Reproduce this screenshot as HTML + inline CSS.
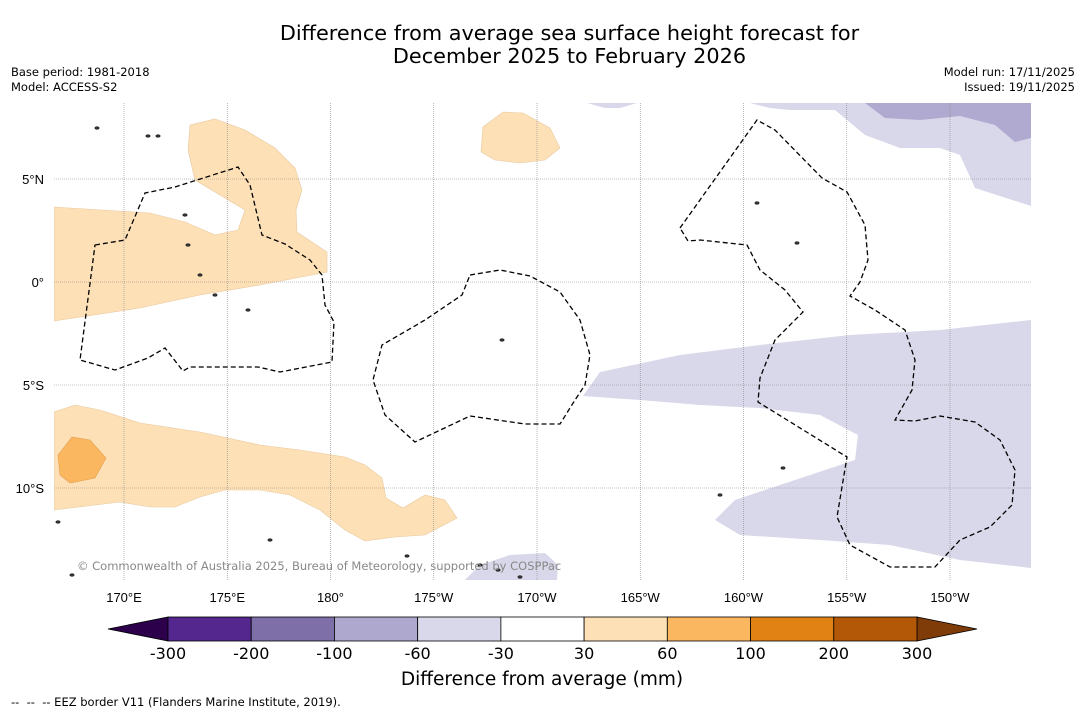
<!DOCTYPE html>
<html><head><meta charset="utf-8"><style>
body{margin:0;background:#fff;font-family:"Liberation Sans","DejaVu Sans",sans-serif;}
#wrap{position:relative;width:1085px;height:713px;overflow:hidden;background:#fff;}
.t{position:absolute;color:#000;white-space:nowrap;}
.dv{font-family:"DejaVu Sans",sans-serif;}
</style></head><body>
<div id="wrap">
<div class="t dv" style="left:0;width:1139px;top:22px;text-align:center;font-size:20.8px;line-height:23px;">Difference from average sea surface height forecast for<br>December 2025 to February 2026</div>
<div class="t dv" style="left:11px;top:65px;font-size:11.5px;line-height:15px;">Base period: 1981-2018<br>Model: ACCESS-S2</div>
<div class="t dv" style="right:10px;top:65px;font-size:11.5px;line-height:15px;text-align:right;">Model run: 17/11/2025<br>Issued: 19/11/2025</div>
<svg id="map" width="1085" height="713" style="position:absolute;left:0;top:0"></svg>
<div class="t dv" style="left:11px;top:695px;font-size:11.5px;">-- &nbsp;-- &nbsp;-- EEZ border V11 (Flanders Marine Institute, 2019).</div>
</div>
<script>
const NS="http://www.w3.org/2000/svg";
const svg=document.getElementById('map');
const lonTicks=[170,175,180,185,190,195,200,205,210];
const lonLabels=["170°E","175°E","180°","175°W","170°W","165°W","160°W","155°W","150°W"];
const latTicks=[5,0,-5,-10];
const latLabels=["5°N","0°","5°S","10°S"];
const cbLevels=["-300","-200","-100","-60","-30","30","60","100","200","300"];
const cbColors=["#54278f","#7f6fa9","#aea8cf","#d8d8ea","#ffffff","#fde0b6","#fbb660","#e08214","#b35806"];
const cbUnder="#2d004b", cbOver="#7f3b08";
const X=lon=>124+(lon-170)*20.65;
const Y=lat=>282-lat*20.6;
function el(tag,attrs,parent){const e=document.createElementNS(NS,tag);for(const k in attrs)e.setAttribute(k,attrs[k]);(parent||svg).appendChild(e);return e;}
const clip=el('clipPath',{id:'mc'});el('rect',{x:54,y:103,width:977,height:477},clip);
const g=el('g',{'clip-path':'url(#mc)'});
function poly(pts,fill,name,stroke){const p=el('polygon',{points:pts.map(a=>a.join(',')).join(' '),fill:fill,stroke:stroke||'none','stroke-width':0.6},g);}
const light="#fde0b6",lp="#d8d8ea",mp="#b0a9d0";
poly([[54,207],[150,213],[185,222],[215,235],[238,230],[245,210],[220,195],[195,180],[188,150],[190,125],[215,119],[245,130],[275,148],[295,168],[302,190],[296,210],[297,232],[327,252],[327,272],[260,285],[200,295],[140,308],[54,321]],light,'anomaly-region-west',"#e8c9a0");
poly([[483,127],[503,112],[523,113],[550,128],[560,148],[545,160],[520,163],[495,160],[481,152]],light,'anomaly-region-north',"#e8c9a0");
poly([[54,412],[75,405],[100,410],[140,423],[200,432],[260,445],[300,450],[345,457],[365,465],[382,478],[386,498],[403,508],[425,495],[445,500],[457,518],[425,535],[395,537],[365,541],[345,530],[320,510],[290,495],[260,490],[225,490],[200,497],[175,507],[150,507],[120,502],[54,510]],light,'anomaly-region-south',"#e8c9a0");
poly([[58,455],[72,437],[90,440],[106,458],[95,478],[70,483],[60,475]],"#fbb660",'anomaly-region-high',"#e0a050");
poly([[583,396],[600,372],[680,355],[760,345],[850,335],[940,330],[1031,320],[1031,568],[960,560],[890,545],[820,540],[740,535],[715,520],[735,500],[780,485],[855,460],[858,435],[820,415],[760,408],[700,405],[640,400]],lp,'anomaly-region-east');
poly([[750,103],[1031,103],[1031,206],[975,188],[960,155],[940,148],[900,148],[865,135],[835,110],[790,110],[770,108]],lp,'anomaly-region-northeast');
poly([[865,103],[1031,103],[1031,138],[1015,142],[995,125],[960,116],[920,120],[885,118]],mp,'anomaly-region-northeast-low');
poly([[587,103],[637,103],[620,108],[605,108]],lp,'anomaly-region-top');
poly([[465,580],[480,565],[510,555],[545,553],[558,565],[557,580]],lp,'anomaly-region-bottom');
lonTicks.forEach((lo,i)=>{const l=el('line',{x1:X(lo),x2:X(lo),y1:103,y2:580,stroke:'#888','stroke-width':0.6,'stroke-dasharray':'1,1'},g);
 const t=el('text',{x:X(lo),y:602,'text-anchor':'middle','font-size':13,fill:'#000'});t.textContent=lonLabels[i];});
latTicks.forEach((la,i)=>{const l=el('line',{x1:54,x2:1031,y1:Y(la),y2:Y(la),stroke:'#888','stroke-width':0.6,'stroke-dasharray':'1,1'},g);
 const t=el('text',{x:44,y:Y(la)+5,'text-anchor':'end','font-size':13,fill:'#000'});t.textContent=latLabels[i];});
function dash(pts,name){const p=el('polygon',{points:pts.map(a=>a.join(',')).join(' '),fill:'none',stroke:'#000','stroke-width':1.3,'stroke-dasharray':'5,3'},g);}
dash([[95,245],[125,240],[145,193],[175,187],[238,167],[250,185],[262,235],[285,244],[310,260],[322,275],[325,305],[334,322],[332,362],[280,372],[258,367],[190,367],[183,371],[165,348],[148,358],[115,370],[80,360]],'eez-border-west');
dash([[470,275],[500,270],[530,276],[560,292],[580,320],[590,355],[585,385],[575,400],[560,424],[525,424],[470,416],[415,442],[385,415],[373,380],[382,345],[425,320],[462,295]],'eez-border-center');
dash([[680,228],[757,120],[775,130],[822,178],[847,192],[865,225],[868,260],[860,282],[850,296],[875,310],[905,330],[915,360],[912,390],[895,420],[915,421],[940,416],[975,422],[1000,440],[1015,470],[1012,505],[990,527],[960,540],[935,567],[890,567],[850,545],[837,517],[847,457],[758,402],[760,378],[775,340],[803,312],[785,290],[760,270],[747,245],[700,240],[688,241]],'eez-border-east');
[[148,136],[158,136],[97,128],[185,215],[188,245],[200,275],[215,295],[248,310],[480,565],[498,570],[72,575],[58,522],[783,468],[797,243],[757,203],[502,340],[720,495],[407,556],[520,577],[270,540]].forEach(p=>{const c=el('ellipse',{cx:p[0],cy:p[1],rx:2.2,ry:1.3,fill:'#333',stroke:'#000','stroke-width':0.5},g);});
const cp=el('text',{x:77,y:570,'font-size':11.5,fill:'#888','font-family':'DejaVu Sans'});cp.textContent="© Commonwealth of Australia 2025, Bureau of Meteorology, supported by COSPPac";
const cbL=168,cbR=917,cbT=617,cbB=641,w=(cbR-cbL)/cbColors.length;
const u=el('polygon',{points:`${cbL},${cbT} ${cbL},${cbB} 108,629`,fill:cbUnder,stroke:'#000','stroke-width':0.8});
const o=el('polygon',{points:`${cbR},${cbT} ${cbR},${cbB} 977,629`,fill:cbOver,stroke:'#000','stroke-width':0.8});
cbColors.forEach((c,i)=>{const r=el('rect',{x:cbL+i*w,y:cbT,width:w,height:cbB-cbT,fill:c,stroke:'#000','stroke-width':0.8});});
cbLevels.forEach((lv,i)=>{const t=el('text',{x:cbL+i*w,y:659,'text-anchor':'middle','font-size':16,fill:'#000','font-family':'DejaVu Sans'});t.textContent=lv;});
const at=el('text',{x:542,y:685,'text-anchor':'middle','font-size':18.5,fill:'#000','font-family':'DejaVu Sans'});at.textContent="Difference from average (mm)";
</script>
</body></html>
